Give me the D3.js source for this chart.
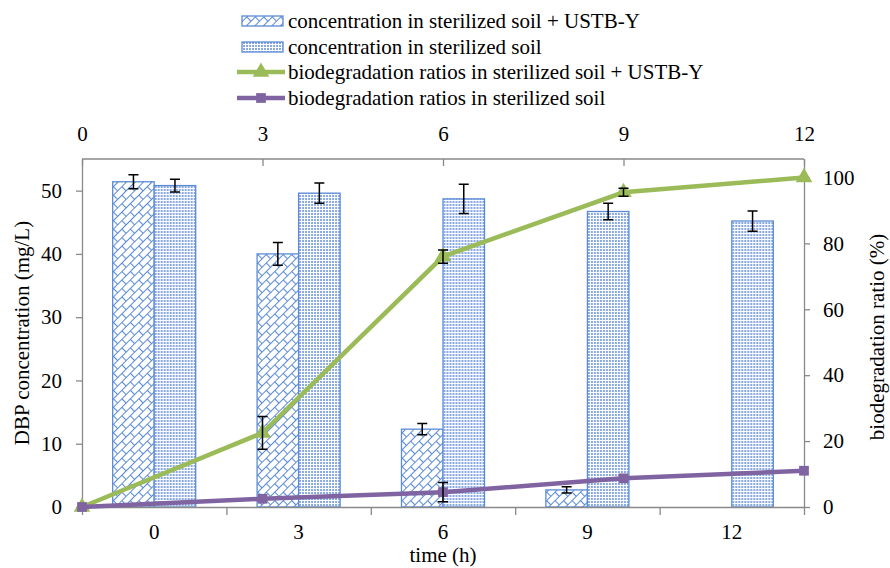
<!DOCTYPE html>
<html>
<head>
<meta charset="utf-8">
<script src="https://cdn.jsdelivr.net/npm/d3@7"></script>
<style>
  body { margin: 0; background: #fff; }
  text { font-family: "Liberation Serif", "Times New Roman", serif; fill: #000; }
</style>
</head>
<body>
<script>
// sample data
const categories = ['0', '3', '6', '9', '12'];
const times = [0, 3, 6, 9, 12];
const concUstb = [51.4, 40.0, 12.3, 2.7, 0];
const concUstbErr = [1.1, 1.8, 0.9, 0.5, 0];
const concSterile = [50.8, 49.6, 48.7, 46.7, 45.2];
const concSterileErr = [1.0, 1.6, 2.3, 1.3, 1.6];
const ratioUstb = [0, 22.5, 76, 95.5, 100];
const ratioUstbErr = [0, 5, 2, 1.2, 0];
const ratioSterile = [0, 2.5, 4.5, 8.7, 11];
const ratioSterileErr = [0, 0, 2.9, 0, 0];
const leftTicks = [0, 10, 20, 30, 40, 50];
const rightTicks = [0, 20, 40, 60, 80, 100];
const legendLabels = [
  'concentration in sterilized soil + USTB-Y',
  'concentration in sterilized soil',
  'biodegradation ratios in sterilized soil + USTB-Y',
  'biodegradation ratios in sterilized soil'
];

const W = 890, H = 568;
const plotLeft = 82, plotRight = 804, plotTop = 159, plotBottom = 507;
const fontSize = 21;
const fontFamily = '"Liberation Serif", "Times New Roman", serif';
const barStroke = '#5b8bd6', green = '#9bbb59', purple = '#8064a2', axisGray = '#898989';

const svg = d3.select('body').append('svg').attr('width', W).attr('height', H)
  .style('font-family', fontFamily);

// patterns
const defs = svg.append('defs');
const brick = defs.append('pattern')
  .attr('id', 'brick')
  .attr('patternUnits', 'userSpaceOnUse')
  .attr('width', 12).attr('height', 12)
  .attr('patternTransform', 'rotate(-45)');
brick.append('rect').attr('width', 12).attr('height', 12).attr('fill', '#fff');
brick.append('path')
  .attr('d', 'M0,0.5H12M0,6.5H12M0.5,0.5V6.5M6.5,6.5V12.5')
  .attr('stroke', barStroke).attr('stroke-width', 1.1).attr('fill', 'none');

const dots = defs.append('pattern')
  .attr('id', 'dots')
  .attr('patternUnits', 'userSpaceOnUse')
  .attr('width', 3).attr('height', 3);
dots.append('rect').attr('width', 3).attr('height', 3).attr('fill', '#fff');
dots.append('rect').attr('width', 2).attr('height', 2).attr('fill', '#89a9e0');

// scales
const x = d3.scaleBand().domain(categories).range([plotLeft, plotRight]).paddingInner(0.425).paddingOuter(0.2125);
const xSub = d3.scaleBand().domain(['ustb', 'sterile']).range([0, x.bandwidth()]);
const xTop = d3.scaleLinear().domain([0, 12]).range([plotLeft, plotRight]);
const xEdge = d3.scaleLinear().domain([0, categories.length]).range([plotLeft, plotRight]);
const yL = d3.scaleLinear().domain([0, 55]).range([plotBottom, plotTop]);
const yR = d3.scaleLinear().domain([0, 105.6]).range([plotBottom, plotTop]);

function styleAxis(g) {
  g.attr('font-family', null).attr('font-size', null);
  g.selectAll('.domain').attr('stroke', axisGray).attr('stroke-width', 1.3);
  g.selectAll('.tick line').attr('stroke', axisGray).attr('stroke-width', 1.3);
  g.selectAll('text').style('font-size', fontSize + 'px').style('font-family', fontFamily).attr('fill', '#000');
}

// plot frame top line
svg.append('line').attr('x1', plotLeft).attr('x2', plotRight).attr('y1', plotTop).attr('y2', plotTop)
  .attr('stroke', axisGray).attr('stroke-width', 1.3);

// bars
const groups = svg.append('g').selectAll('g')
  .data(categories)
  .enter().append('g')
  .attr('transform', d => `translate(${x(d)},0)`);

groups.append('rect')
  .attr('x', xSub('ustb'))
  .attr('y', (d, i) => yL(concUstb[i]))
  .attr('width', xSub.bandwidth())
  .attr('height', (d, i) => yL(0) - yL(concUstb[i]))
  .attr('fill', 'url(#brick)')
  .attr('stroke', barStroke).attr('stroke-width', 1.3)
  .style('display', (d, i) => concUstb[i] > 0 ? null : 'none');

groups.append('rect')
  .attr('x', xSub('sterile'))
  .attr('y', (d, i) => yL(concSterile[i]))
  .attr('width', xSub.bandwidth())
  .attr('height', (d, i) => yL(0) - yL(concSterile[i]))
  .attr('fill', 'url(#dots)')
  .attr('stroke', barStroke).attr('stroke-width', 1.3);

// error bar helper
function errorBar(g, cx, y1, y2) {
  const cap = 5;
  g.append('path')
    .attr('d', `M${cx},${y1}V${y2}M${cx - cap},${y1}H${cx + cap}M${cx - cap},${y2}H${cx + cap}`)
    .attr('stroke', '#000').attr('stroke-width', 1.5).attr('fill', 'none');
}

const errG = svg.append('g');
categories.forEach((c, i) => {
  if (concUstbErr[i] > 0) {
    errorBar(errG, x(c) + xSub('ustb') + xSub.bandwidth() / 2,
      yL(concUstb[i] + concUstbErr[i]), yL(concUstb[i] - concUstbErr[i]));
  }
  errorBar(errG, x(c) + xSub('sterile') + xSub.bandwidth() / 2,
    yL(concSterile[i] + concSterileErr[i]), yL(concSterile[i] - concSterileErr[i]));
});

// axes
const gLeft = svg.append('g').attr('transform', `translate(${plotLeft},0)`)
  .call(d3.axisLeft(yL).tickValues(leftTicks).tickSizeInner(6).tickSizeOuter(0).tickPadding(14));
styleAxis(gLeft);

const gRight = svg.append('g').attr('transform', `translate(${plotRight},0)`)
  .call(d3.axisRight(yR).tickValues(rightTicks).tickSizeInner(6).tickSizeOuter(0).tickPadding(13));
styleAxis(gRight);

const gEdge = svg.append('g').attr('transform', `translate(0,${plotBottom})`)
  .call(d3.axisBottom(xEdge).ticks(categories.length).tickFormat('').tickSizeInner(8).tickSizeOuter(0));
styleAxis(gEdge);

const gBottom = svg.append('g').attr('transform', `translate(0,${plotBottom})`)
  .call(d3.axisBottom(x).tickSize(0).tickPadding(17));
gBottom.select('.domain').remove();
styleAxis(gBottom);

const gTop = svg.append('g').attr('transform', `translate(0,${plotTop})`)
  .call(d3.axisTop(xTop).tickValues(times).tickSizeInner(-7).tickSizeOuter(0).tickPadding(18));
gTop.select('.domain').remove();
styleAxis(gTop);

// lines
const lineGen = d3.line().x(d => xTop(d[0])).y(d => yR(d[1]));

function drawSeries(values, errs, color, symbolType, size) {
  const pts = times.map((t, i) => [t, values[i]]);
  svg.append('path')
    .datum(pts)
    .attr('d', lineGen)
    .attr('fill', 'none')
    .attr('stroke', color)
    .attr('stroke-width', 4.5);
  svg.append('g').selectAll('path')
    .data(pts)
    .enter().append('path')
    .attr('transform', d => `translate(${xTop(d[0])},${yR(d[1])})`)
    .attr('d', d3.symbol().type(symbolType).size(size))
    .attr('fill', color);
  const eg = svg.append('g');
  times.forEach((t, i) => {
    if (errs[i] > 0) errorBar(eg, xTop(t), yR(values[i] + errs[i]), yR(values[i] - errs[i]));
  });
}

drawSeries(ratioUstb, ratioUstbErr, green, d3.symbolTriangle, 120);
drawSeries(ratioSterile, ratioSterileErr, purple, d3.symbolSquare, 95);

// axis titles
svg.append('text')
  .attr('transform', `translate(22,${(plotTop + plotBottom) / 2}) rotate(-90)`)
  .attr('text-anchor', 'middle')
  .attr('dy', '0.35em')
  .style('font-size', fontSize + 'px')
  .text('DBP concentration (mg/L)');

svg.append('text')
  .attr('transform', `translate(877,${(plotTop + plotBottom) / 2 + 4}) rotate(-90)`)
  .attr('text-anchor', 'middle')
  .attr('dy', '0.35em')
  .style('font-size', fontSize + 'px')
  .text('biodegradation ratio (%)');

svg.append('text')
  .attr('x', (plotLeft + plotRight) / 2)
  .attr('y', 562)
  .attr('text-anchor', 'middle')
  .style('font-size', fontSize + 'px')
  .text('time (h)');

// legend
const legendY = [21, 47, 72, 98];
const legend = svg.append('g');
legend.append('rect').attr('x', 242).attr('y', legendY[0] - 5).attr('width', 41).attr('height', 10)
  .attr('fill', 'url(#brick)').attr('stroke', barStroke).attr('stroke-width', 1.3);
legend.append('rect').attr('x', 242).attr('y', legendY[1] - 5).attr('width', 41).attr('height', 10)
  .attr('fill', 'url(#dots)').attr('stroke', barStroke).attr('stroke-width', 1.3);
[[green, d3.symbolTriangle, 120], [purple, d3.symbolSquare, 95]].forEach((s, k) => {
  const yy = legendY[k + 2];
  legend.append('line').attr('x1', 237).attr('x2', 285).attr('y1', yy).attr('y2', yy)
    .attr('stroke', s[0]).attr('stroke-width', 4.5);
  legend.append('path').attr('transform', `translate(261,${yy})`)
    .attr('d', d3.symbol().type(s[1]).size(s[2])).attr('fill', s[0]);
});
legend.selectAll('text.lbl')
  .data(legendLabels)
  .enter().append('text')
  .attr('class', 'lbl')
  .attr('x', 288)
  .attr('y', (d, i) => legendY[i])
  .attr('dy', '0.35em')
  .style('font-size', fontSize + 'px')
  .text(d => d);
</script>
</body>
</html>
